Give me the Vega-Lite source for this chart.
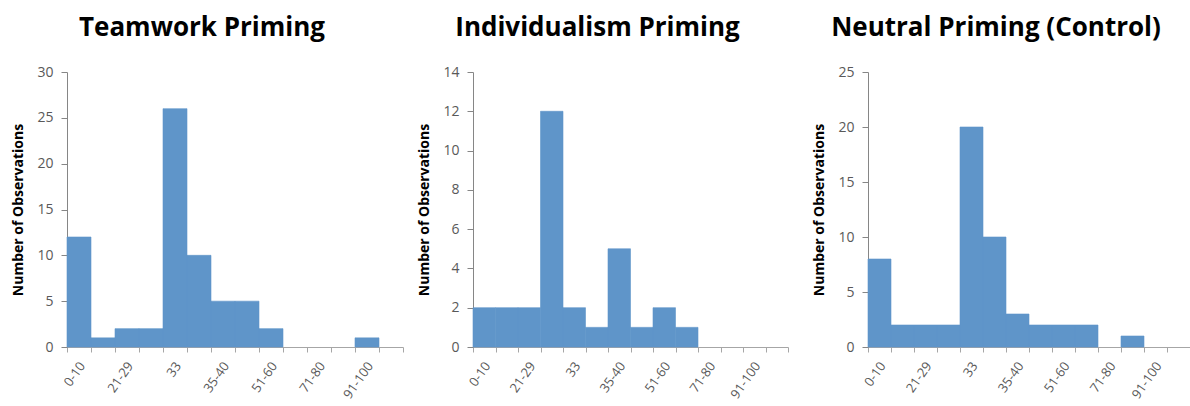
{
  "$schema": "https://vega.github.io/schema/vega-lite/v6.json",
  "padding": {"left": 11, "top": 15, "right": 0, "bottom": 0},
  "bounds": "flush",
  "spacing": 70,
  "config": {
    "view": {"stroke": null},
    "font": "Open Sans",
    "title": {"font": "Open Sans", "fontSize": 26, "fontWeight": "bold", "color": "#000000", "anchor": "middle", "baseline": "alphabetic", "offset": 24, "dx": -33},
    "axisX": {"title": null, "tickBand": "extent", "labelAngle": -55, "labelAlign": "right", "labelBaseline": "middle", "labelFont": "Open Sans", "labelFontSize": 13, "labelColor": "#595959", "tickSize": 5, "labelPadding": 11, "labelOffset": 3, "domainColor": "#a6a6a6", "tickColor": "#a6a6a6", "grid": false, "labelOverlap": false,
      "labelExpr": "indexof(['0-10','21-29','33','35-40','51-60','71-80','91-100'], datum.value) >= 0 ? datum.label : ''"},
    "axisY": {"grid": false, "labelFont": "Open Sans", "labelFontSize": 14, "labelColor": "#595959", "tickSize": 6, "labelPadding": 8, "domainColor": "#868686", "tickColor": "#868686", "titleFont": "Open Sans", "titleFontSize": 14, "titleFontWeight": "bold", "titleColor": "#000000", "titlePadding": 11},
    "bar": {"color": "#5f95c9", "stroke": "#5f95c9", "strokeWidth": 0.6}
  },
  "datasets": {
    "hist": [
      {"panel": "Teamwork", "bin": "0-10", "count": 12},
      {"panel": "Teamwork", "bin": "11-20", "count": 1},
      {"panel": "Teamwork", "bin": "21-29", "count": 2},
      {"panel": "Teamwork", "bin": "30-32", "count": 2},
      {"panel": "Teamwork", "bin": "33", "count": 26},
      {"panel": "Teamwork", "bin": "34", "count": 10},
      {"panel": "Teamwork", "bin": "35-40", "count": 5},
      {"panel": "Teamwork", "bin": "41-50", "count": 5},
      {"panel": "Teamwork", "bin": "51-60", "count": 2},
      {"panel": "Teamwork", "bin": "61-70", "count": 0},
      {"panel": "Teamwork", "bin": "71-80", "count": 0},
      {"panel": "Teamwork", "bin": "81-90", "count": 0},
      {"panel": "Teamwork", "bin": "91-100", "count": 1},
      {"panel": "Teamwork", "bin": "More", "count": 0},
      {"panel": "Individualism", "bin": "0-10", "count": 2},
      {"panel": "Individualism", "bin": "11-20", "count": 2},
      {"panel": "Individualism", "bin": "21-29", "count": 2},
      {"panel": "Individualism", "bin": "30-32", "count": 12},
      {"panel": "Individualism", "bin": "33", "count": 2},
      {"panel": "Individualism", "bin": "34", "count": 1},
      {"panel": "Individualism", "bin": "35-40", "count": 5},
      {"panel": "Individualism", "bin": "41-50", "count": 1},
      {"panel": "Individualism", "bin": "51-60", "count": 2},
      {"panel": "Individualism", "bin": "61-70", "count": 1},
      {"panel": "Individualism", "bin": "71-80", "count": 0},
      {"panel": "Individualism", "bin": "81-90", "count": 0},
      {"panel": "Individualism", "bin": "91-100", "count": 0},
      {"panel": "Individualism", "bin": "More", "count": 0},
      {"panel": "Neutral", "bin": "0-10", "count": 8},
      {"panel": "Neutral", "bin": "11-20", "count": 2},
      {"panel": "Neutral", "bin": "21-29", "count": 2},
      {"panel": "Neutral", "bin": "30-32", "count": 2},
      {"panel": "Neutral", "bin": "33", "count": 20},
      {"panel": "Neutral", "bin": "34", "count": 10},
      {"panel": "Neutral", "bin": "35-40", "count": 3},
      {"panel": "Neutral", "bin": "41-50", "count": 2},
      {"panel": "Neutral", "bin": "51-60", "count": 2},
      {"panel": "Neutral", "bin": "61-70", "count": 2},
      {"panel": "Neutral", "bin": "71-80", "count": 0},
      {"panel": "Neutral", "bin": "81-90", "count": 1},
      {"panel": "Neutral", "bin": "91-100", "count": 0},
      {"panel": "Neutral", "bin": "More", "count": 0}
    ]
  },
  "hconcat": [
    {
      "width": 336, "height": 275,
      "title": {"text": "Teamwork Priming"},
      "data": {"name": "hist"},
      "transform": [{"filter": "datum.panel === 'Teamwork' && datum.count > 0"}],
      "mark": {"type": "bar"},
      "encoding": {
        "x": {"field": "bin", "type": "ordinal", "scale": {"domain": ["0-10","11-20","21-29","30-32","33","34","35-40","41-50","51-60","61-70","71-80","81-90","91-100","More"], "paddingInner": 0, "paddingOuter": 0}},
        "y": {"field": "count", "type": "quantitative", "scale": {"domain": [0, 30]}, "axis": {"values": [0,5,10,15,20,25,30], "title": "Number of Observations"}}
      }
    },
    {
      "bounds": "flush",
      "spacing": 80,
      "hconcat": [
        {
          "width": 315, "height": 275,
          "title": {"text": "Individualism Priming"},
          "data": {"name": "hist"},
          "transform": [{"filter": "datum.panel === 'Individualism' && datum.count > 0"}],
          "mark": {"type": "bar"},
          "encoding": {
            "x": {"field": "bin", "type": "ordinal", "scale": {"domain": ["0-10","11-20","21-29","30-32","33","34","35-40","41-50","51-60","61-70","71-80","81-90","91-100","More"], "paddingInner": 0, "paddingOuter": 0}},
            "y": {"field": "count", "type": "quantitative", "scale": {"domain": [0, 14]}, "axis": {"values": [0,2,4,6,8,10,12,14], "title": "Number of Observations"}}
          }
        },
        {
          "width": 322, "height": 275,
          "title": {"text": "Neutral Priming (Control)"},
          "data": {"name": "hist"},
          "transform": [{"filter": "datum.panel === 'Neutral' && datum.count > 0"}],
          "mark": {"type": "bar"},
          "encoding": {
            "x": {"field": "bin", "type": "ordinal", "scale": {"domain": ["0-10","11-20","21-29","30-32","33","34","35-40","41-50","51-60","61-70","71-80","81-90","91-100","More"], "paddingInner": 0, "paddingOuter": 0}},
            "y": {"field": "count", "type": "quantitative", "scale": {"domain": [0, 25]}, "axis": {"values": [0,5,10,15,20,25], "title": "Number of Observations"}}
          }
        }
      ]
    }
  ]
}
